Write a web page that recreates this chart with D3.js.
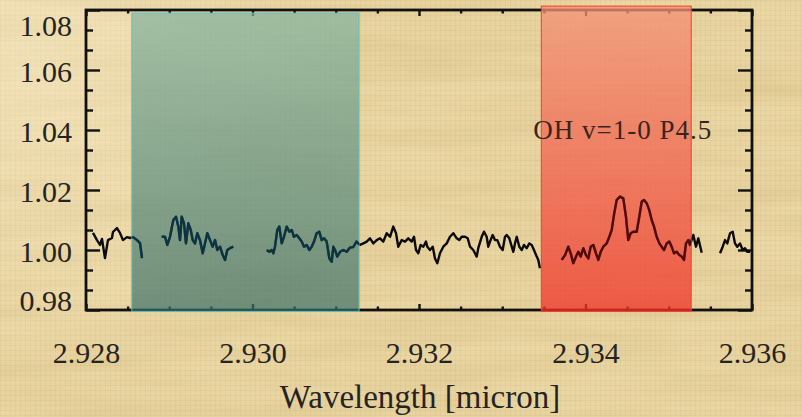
<!DOCTYPE html>
<html>
<head>
<meta charset="utf-8">
<script src="https://cdn.jsdelivr.net/npm/d3@7"></script>
<style>
  html, body { margin: 0; padding: 0; background: #ebd8a7; }
  svg { display: block; }
  text { font-family: "Liberation Serif", "Times New Roman", serif; }
</style>
</head>
<body>
<svg id="chart" width="802" height="417"></svg>
<script>
// Normalised spectrum around 2.93 micron; null marks a gap between observed segments
const wavelength = [
  2.928084, 2.928132, 2.928168, 2.928192, 2.928228, 2.928264, 2.928312, 2.928324, 2.928372, 2.928408,
  2.928444, 2.928492, 2.928529, 2.928565, 2.928613, 2.928649, 2.928673,
  null,
  2.928909, 2.928949, 2.928977, 2.929009, 2.929049, 2.929081, 2.929109, 2.929129, 2.929150, 2.929177,
  2.929201, 2.929229, 2.929258, 2.929282, 2.929309, 2.929337, 2.929369, 2.929402, 2.929429, 2.929457,
  2.929490, 2.929522, 2.929550, 2.929577, 2.929610, 2.929642, 2.929670, 2.929697, 2.929730, 2.929769,
  null,
  2.930171, 2.930202, 2.930231, 2.930250, 2.930270, 2.930298, 2.930322, 2.930351, 2.930378, 2.930411,
  2.930442, 2.930471, 2.930498, 2.930531, 2.930562, 2.930591, 2.930619, 2.930651, 2.930682, 2.930711,
  2.930739, 2.930771, 2.930802, 2.930831, 2.930859, 2.930891, 2.930923, 2.930951, 2.930971, 2.930991,
  2.931019, 2.931051, 2.931091, 2.931132, 2.931171, 2.931211, 2.931249, 2.931291, 2.931331, 2.931372,
  2.931411, 2.931451, 2.931492, 2.931532, 2.931571, 2.931612, 2.931652, 2.931691, 2.931724, 2.931751,
  2.931792, 2.931832, 2.931871, 2.931912, 2.931940, 2.931964, 2.931992, 2.932020, 2.932052, 2.932084,
  2.932100, 2.932132, 2.932165, 2.932192, 2.932220, 2.932252, 2.932292, 2.932333, 2.932372, 2.932412,
  2.932453, 2.932484, 2.932513, 2.932553, 2.932585, 2.932613, 2.932652, 2.932693, 2.932712, 2.932753,
  2.932781, 2.932813, 2.932832, 2.932853, 2.932885, 2.932913, 2.932941, 2.932973, 2.933005, 2.933033,
  2.933053, 2.933085, 2.933114, 2.933133, 2.933153, 2.933174, 2.933205, 2.933234, 2.933261, 2.933294,
  2.933325, 2.933354, 2.933381, 2.933414, 2.933433, 2.933453,
  null,
  2.933714, 2.933754, 2.933793, 2.933822, 2.933853, 2.933886, 2.933914, 2.933942, 2.933974, 2.934006,
  2.934034, 2.934062, 2.934094, 2.934126, 2.934154, 2.934183, 2.934214, 2.934255, 2.934286, 2.934315,
  2.934342, 2.934375, 2.934414, 2.934454, 2.934486, 2.934514, 2.934543, 2.934574, 2.934615, 2.934646,
  2.934675, 2.934703, 2.934735, 2.934766, 2.934795, 2.934823, 2.934855, 2.934887, 2.934915, 2.934943,
  2.934975, 2.935007, 2.935035, 2.935063, 2.935095, 2.935127, 2.935156, 2.935183, 2.935207, 2.935235,
  2.935255, 2.935295, 2.935327, 2.935355, 2.935396,
  null,
  2.935616, 2.935648, 2.935676, 2.935703, 2.935736, 2.935768, 2.935796, 2.935823, 2.935856, 2.935888,
  2.935916, 2.935944, 2.935976
];

const flux = [
  1.0057, 1.0033, 1.0017, 1.0037, 0.9973, 1.0033, 1.0040, 1.0060, 1.0073, 1.0057,
  1.0033, 1.0043, 1.0040, 1.0043, 1.0033, 1.0023, 0.9973,
  null,
  1.0044, 1.0044, 1.0017, 1.0044, 1.0100, 1.0111, 1.0078, 1.0033, 1.0111, 1.0089,
  1.0022, 1.0089, 1.0067, 1.0033, 1.0022, 1.0056, 1.0033, 0.9989, 1.0022, 1.0056,
  1.0033, 1.0011, 1.0033, 1.0000, 1.0011, 0.9983, 0.9967, 1.0000, 1.0006, 1.0011,
  null,
  1.0000, 0.9994, 1.0000, 0.9989, 1.0011, 1.0067, 1.0078, 1.0022, 1.0044, 1.0078,
  1.0061, 1.0067, 1.0044, 1.0050, 1.0039, 1.0028, 1.0011, 1.0017, 1.0000, 1.0011,
  1.0028, 1.0056, 1.0061, 1.0033, 1.0039, 1.0028, 0.9972, 0.9961, 1.0011, 1.0000,
  0.9978, 0.9994, 1.0000, 0.9994, 1.0008, 1.0010, 1.0028, 1.0017, 1.0022, 1.0028,
  1.0039, 1.0022, 1.0033, 1.0039, 1.0028, 1.0056, 1.0044, 1.0078, 1.0056, 1.0011,
  1.0033, 1.0028, 1.0039, 1.0028, 1.0044, 1.0000, 0.9989, 1.0017, 1.0011, 1.0028,
  1.0011, 1.0000, 1.0011, 0.9972, 0.9956, 0.9989, 1.0011, 1.0022, 1.0044, 1.0056,
  1.0039, 1.0033, 1.0044, 1.0044, 1.0039, 1.0011, 1.0000, 0.9978, 1.0006, 1.0044,
  1.0061, 1.0044, 1.0011, 1.0028, 1.0050, 1.0033, 1.0033, 1.0011, 1.0000, 1.0044,
  1.0050, 1.0039, 1.0011, 0.9994, 1.0022, 1.0044, 1.0011, 1.0000, 1.0017, 1.0006,
  1.0022, 1.0017, 1.0000, 0.9978, 0.9967, 0.9939,
  null,
  0.9967, 0.9983, 1.0011, 0.9989, 0.9956, 0.9978, 0.9994, 0.9978, 1.0006, 0.9983,
  0.9972, 1.0011, 1.0017, 0.9989, 0.9967, 0.9994, 1.0011, 1.0022, 1.0044, 1.0067,
  1.0117, 1.0167, 1.0178, 1.0172, 1.0111, 1.0033, 1.0056, 1.0061, 1.0061, 1.0111,
  1.0161, 1.0167, 1.0156, 1.0133, 1.0100, 1.0078, 1.0044, 1.0022, 1.0011, 1.0000,
  1.0022, 1.0028, 1.0011, 0.9989, 0.9994, 0.9983, 0.9978, 0.9967, 1.0022, 1.0033,
  1.0017, 1.0050, 1.0011, 1.0039, 0.9991,
  null,
  0.9989, 1.0011, 1.0033, 1.0022, 1.0056, 1.0061, 1.0022, 1.0011, 1.0022, 1.0000,
  1.0006, 0.9994, 0.9994
];

// Highlighted wavelength windows (continuum window, OH line window)
const bandStart  = [2.92855, 2.93347];
const bandEnd    = [2.93128, 2.93527];
const bandTop    = [1.0790, 1.0813];
const bandBottom = [0.9795, 0.9795];

// Axis ticks
const xMajorTicks = [2.928, 2.930, 2.932, 2.934, 2.936];
const xMinorStep = 0.0005;
const yMajorTicks = [0.98, 1.00, 1.02, 1.04, 1.06, 1.08];
const yMinorDivisions = 3;

const lineLabel = "OH v=1-0 P4.5";
const xTitle = "Wavelength [micron]";

const svg = d3.select("#chart");
const W = 802, H = 417;
const plot = { left: 86, right: 752, top: 10, bottom: 310 };

const x = d3.scaleLinear().domain([2.928, 2.936]).range([plot.left, plot.right]);
const y = d3.scaleLinear().domain([0.98, 1.08]).range([plot.bottom, plot.top]);

const points = wavelength.map((w, i) => ({ w, f: flux[i] }));

// ----- defs: paper texture, band gradients, clip paths -----
const defs = svg.append("defs");

const paper = defs.append("filter").attr("id", "paper")
  .attr("x", 0).attr("y", 0).attr("width", 1).attr("height", 1);
paper.append("feTurbulence").attr("type", "fractalNoise")
  .attr("baseFrequency", "0.006 0.05").attr("numOctaves", 3).attr("seed", 7);
paper.append("feColorMatrix").attr("type", "matrix")
  .attr("values", "0 0 0 0 0.62  0 0 0 0 0.48  0 0 0 0 0.20  0 0 0 0.55 -0.15");

const weave = defs.append("pattern").attr("id", "weave")
  .attr("width", 5).attr("height", 5).attr("patternUnits", "userSpaceOnUse");
weave.append("path").attr("d", "M0 0.5H5M0.5 0V5")
  .attr("stroke", "#9a7a45").attr("stroke-opacity", 0.07).attr("stroke-width", 1);

const glow = defs.append("radialGradient").attr("id", "glow")
  .attr("gradientUnits", "userSpaceOnUse").attr("cx", 40).attr("cy", 60).attr("r", 320);
glow.append("stop").attr("offset", 0).attr("stop-color", "#fff6da").attr("stop-opacity", 0.4);
glow.append("stop").attr("offset", 1).attr("stop-color", "#fff6da").attr("stop-opacity", 0);

function bandGradient(id, top, bottom) {
  const g = defs.append("linearGradient").attr("id", id)
    .attr("gradientUnits", "userSpaceOnUse")
    .attr("x1", 0).attr("x2", 0).attr("y1", plot.top).attr("y2", plot.bottom);
  g.append("stop").attr("offset", 0).attr("stop-color", top);
  g.append("stop").attr("offset", 1).attr("stop-color", bottom);
}
bandGradient("bandTeal", "#84b4a0", "#3d7068");
bandGradient("bandRed", "#f39276", "#ef3429");

const bandFill = ["url(#bandTeal)", "url(#bandRed)"];
const bandOpacity = [0.7, 0.76];
const bandEdge = ["#5cc4c0", "#ff3a30"];
const bandLine = ["#0c3340", "#4e0d0c"];

bandStart.forEach((s, i) => {
  defs.append("clipPath").attr("id", "clipBand" + i)
    .append("rect")
    .attr("x", x(s)).attr("width", x(bandEnd[i]) - x(s))
    .attr("y", y(bandTop[i])).attr("height", y(bandBottom[i]) - y(bandTop[i]));
});

// ----- background -----
svg.append("rect").attr("width", W).attr("height", H).attr("fill", "#ebd7a4");
svg.append("rect").attr("width", W).attr("height", H).attr("filter", "url(#paper)");
svg.append("rect").attr("width", W).attr("height", H).attr("fill", "url(#weave)");
svg.append("rect").attr("width", W).attr("height", H).attr("fill", "url(#glow)");

// ----- frame and ticks -----
const axisColor = "#111";
const axes = svg.append("g").attr("class", "axes");

function minorTicks(major, step) {
  const out = [];
  for (let i = 0; i < major.length - 1; i++) {
    const a = major[i], b = major[i + 1];
    const n = Math.round((b - a) / step);
    for (let k = 1; k < n; k++) out.push(a + (b - a) * k / n);
  }
  return out;
}
const xMinor = minorTicks(xMajorTicks, xMinorStep);
const yMinor = minorTicks(yMajorTicks, (yMajorTicks[1] - yMajorTicks[0]) / yMinorDivisions);

function tickGroup(axisFn, scale, values, size, transform) {
  const g = axes.append("g").attr("transform", transform)
    .call(axisFn(scale).tickValues(values).tickSize(size).tickSizeOuter(0).tickFormat(""));
  g.select(".domain").remove();
  g.selectAll(".tick line").attr("stroke", axisColor).attr("stroke-width", 2.4);
  return g;
}
// ticks point inward on all four sides
tickGroup(d3.axisBottom, x, xMajorTicks, -6, `translate(0,${plot.bottom})`);
tickGroup(d3.axisBottom, x, xMinor, -3.5, `translate(0,${plot.bottom})`);
tickGroup(d3.axisTop, x, xMajorTicks, -6, `translate(0,${plot.top})`);
tickGroup(d3.axisTop, x, xMinor, -3.5, `translate(0,${plot.top})`);
tickGroup(d3.axisLeft, y, yMajorTicks, -14, `translate(${plot.left},0)`);
tickGroup(d3.axisLeft, y, yMinor, -7, `translate(${plot.left},0)`);
tickGroup(d3.axisRight, y, yMajorTicks, -14, `translate(${plot.right},0)`);
tickGroup(d3.axisRight, y, yMinor, -7, `translate(${plot.right},0)`);

axes.append("rect")
  .attr("x", plot.left).attr("y", plot.top)
  .attr("width", plot.right - plot.left).attr("height", plot.bottom - plot.top)
  .attr("fill", "none").attr("stroke", axisColor).attr("stroke-width", 2.8);

// ----- tick labels -----
const labelColor = "#262422";
const xLab = svg.append("g").attr("transform", `translate(0,${plot.bottom})`)
  .call(d3.axisBottom(x).tickValues(xMajorTicks).tickSize(0).tickFormat(d3.format(".3f")));
xLab.select(".domain").remove();
xLab.selectAll("text")
  .attr("y", 53).attr("dy", null)
  .attr("font-size", 30).attr("fill", labelColor)
  .style("font-family", '"Liberation Serif", "Times New Roman", serif');

const yLab = svg.append("g").attr("transform", `translate(${plot.left},0)`)
  .call(d3.axisLeft(y).tickValues(yMajorTicks).tickSize(0).tickFormat(d3.format(".2f")));
yLab.select(".domain").remove();
const yFirst = yMajorTicks[0], yLast = yMajorTicks[yMajorTicks.length - 1];
yLab.selectAll("text")
  .attr("x", -14)
  // end labels sit just inside the frame corners
  .attr("y", d => d === yFirst ? -10 : (d === yLast ? 15 : 1))
  .attr("dy", "0.34em")
  .attr("font-size", 30).attr("fill", labelColor)
  .style("font-family", '"Liberation Serif", "Times New Roman", serif');

// ----- spectrum -----
const line = d3.line()
  .defined(d => d.w !== null && d.f !== null)
  .x(d => x(d.w))
  .y(d => y(d.f));

svg.append("path").datum(points)
  .attr("d", line)
  .attr("fill", "none").attr("stroke", "#0b0b0b")
  .attr("stroke-width", 2.4).attr("stroke-linejoin", "round");

// ----- highlighted windows -----
bandStart.forEach((s, i) => {
  svg.append("rect")
    .attr("x", x(s)).attr("width", x(bandEnd[i]) - x(s))
    .attr("y", y(bandTop[i])).attr("height", y(bandBottom[i]) - y(bandTop[i]))
    .attr("fill", bandFill[i]).attr("fill-opacity", bandOpacity[i])
    .attr("stroke", bandEdge[i]).attr("stroke-width", 1.1).attr("stroke-opacity", 0.9);
  // spectrum re-inked in the tint of its window
  svg.append("path").datum(points)
    .attr("d", line)
    .attr("clip-path", `url(#clipBand${i})`)
    .attr("fill", "none").attr("stroke", bandLine[i])
    .attr("stroke-width", 2.4).attr("stroke-linejoin", "round");
});

// ----- annotation -----
svg.append("text")
  .attr("x", x(2.933372)).attr("y", 139)
  .attr("font-size", 27).attr("letter-spacing", 1)
  .attr("fill", "#3a2420")
  .text(lineLabel);

// ----- axis title -----
svg.append("text")
  .attr("x", (plot.left + plot.right) / 2 + 1).attr("y", 408)
  .attr("text-anchor", "middle")
  .attr("font-size", 33).attr("fill", labelColor)
  .text(xTitle);
</script>
</body>
</html>
